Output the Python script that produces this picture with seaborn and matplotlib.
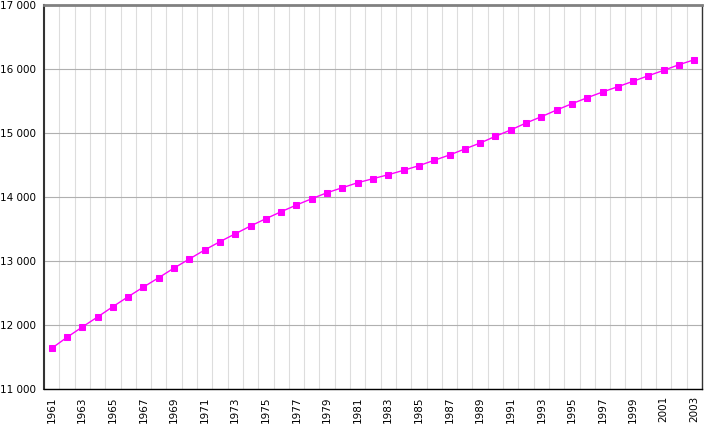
import numpy as np
import pandas as pd
import seaborn as sns
import matplotlib.pyplot as plt
from matplotlib.ticker import FuncFormatter, MultipleLocator

years = list(range(1961, 2004))
population = [11640, 11812, 11973, 12130, 12291, 12447, 12598, 12744, 12895, 13036,
              13177, 13307, 13430, 13552, 13666, 13775, 13880, 13978, 14072, 14150,
              14228, 14291, 14353, 14422, 14494, 14578, 14661, 14755, 14848, 14953,
              15052, 15161, 15259, 15364, 15462, 15556, 15645, 15728, 15813, 15900,
              15984, 16072, 16150]

d = pd.DataFrame({'year': years, 'pop': population})

sns.set_style('white')
plt.rcParams['font.family'] = ['DejaVu Sans']

fig = plt.figure(figsize=(7.25, 4.26), dpi=100)
ax = fig.add_axes([44/725, 1-389.3/426, 658/725, 384/426])

sns.lineplot(data=d, x='year', y='pop', ax=ax, color='#ff00ff', lw=1.0,
             marker='s', markersize=4.8, markeredgecolor='#ff00ff', zorder=3)

ax.set_xlim(years[0]-0.5, years[-1]+0.5)
ax.set_ylim(11000, 17000)

ax.set_xticks(years[::2])
ax.set_xticklabels([str(y) for y in years[::2]], rotation=90)
ax.xaxis.set_minor_locator(MultipleLocator(1, offset=0.5))
ax.yaxis.set_major_locator(MultipleLocator(1000))
ax.yaxis.set_minor_locator(MultipleLocator(500))
ax.yaxis.set_major_formatter(FuncFormatter(lambda v, p: f'{int(v):,}'.replace(',', ' ')))

ax.grid(which='minor', axis='x', color='#dddddd', lw=0.8)
ax.grid(which='major', axis='y', color='#b0b0b0', lw=0.8)
ax.set_axisbelow(True)

ax.tick_params(axis='x', which='major', length=0, pad=5, labelsize=7.5, labelcolor='black')
ax.tick_params(axis='x', which='minor', length=4, color='#cccccc', width=0.8)
ax.tick_params(axis='y', which='major', length=4, color='#b0b0b0', labelsize=7.5,
               labelcolor='black', pad=2)
ax.tick_params(axis='y', which='minor', length=3, color='#666666', width=0.8)

ax.spines['top'].set_color('#808080')
ax.spines['top'].set_linewidth(2)
ax.spines['left'].set_color('#333333')
ax.spines['left'].set_linewidth(1.5)
ax.spines['right'].set_color('#333333')
ax.spines['right'].set_linewidth(1)
ax.spines['bottom'].set_color('black')
ax.spines['bottom'].set_linewidth(1)

ax.set_xlabel('')
ax.set_ylabel('')

fig.savefig('out.png', dpi=100)
